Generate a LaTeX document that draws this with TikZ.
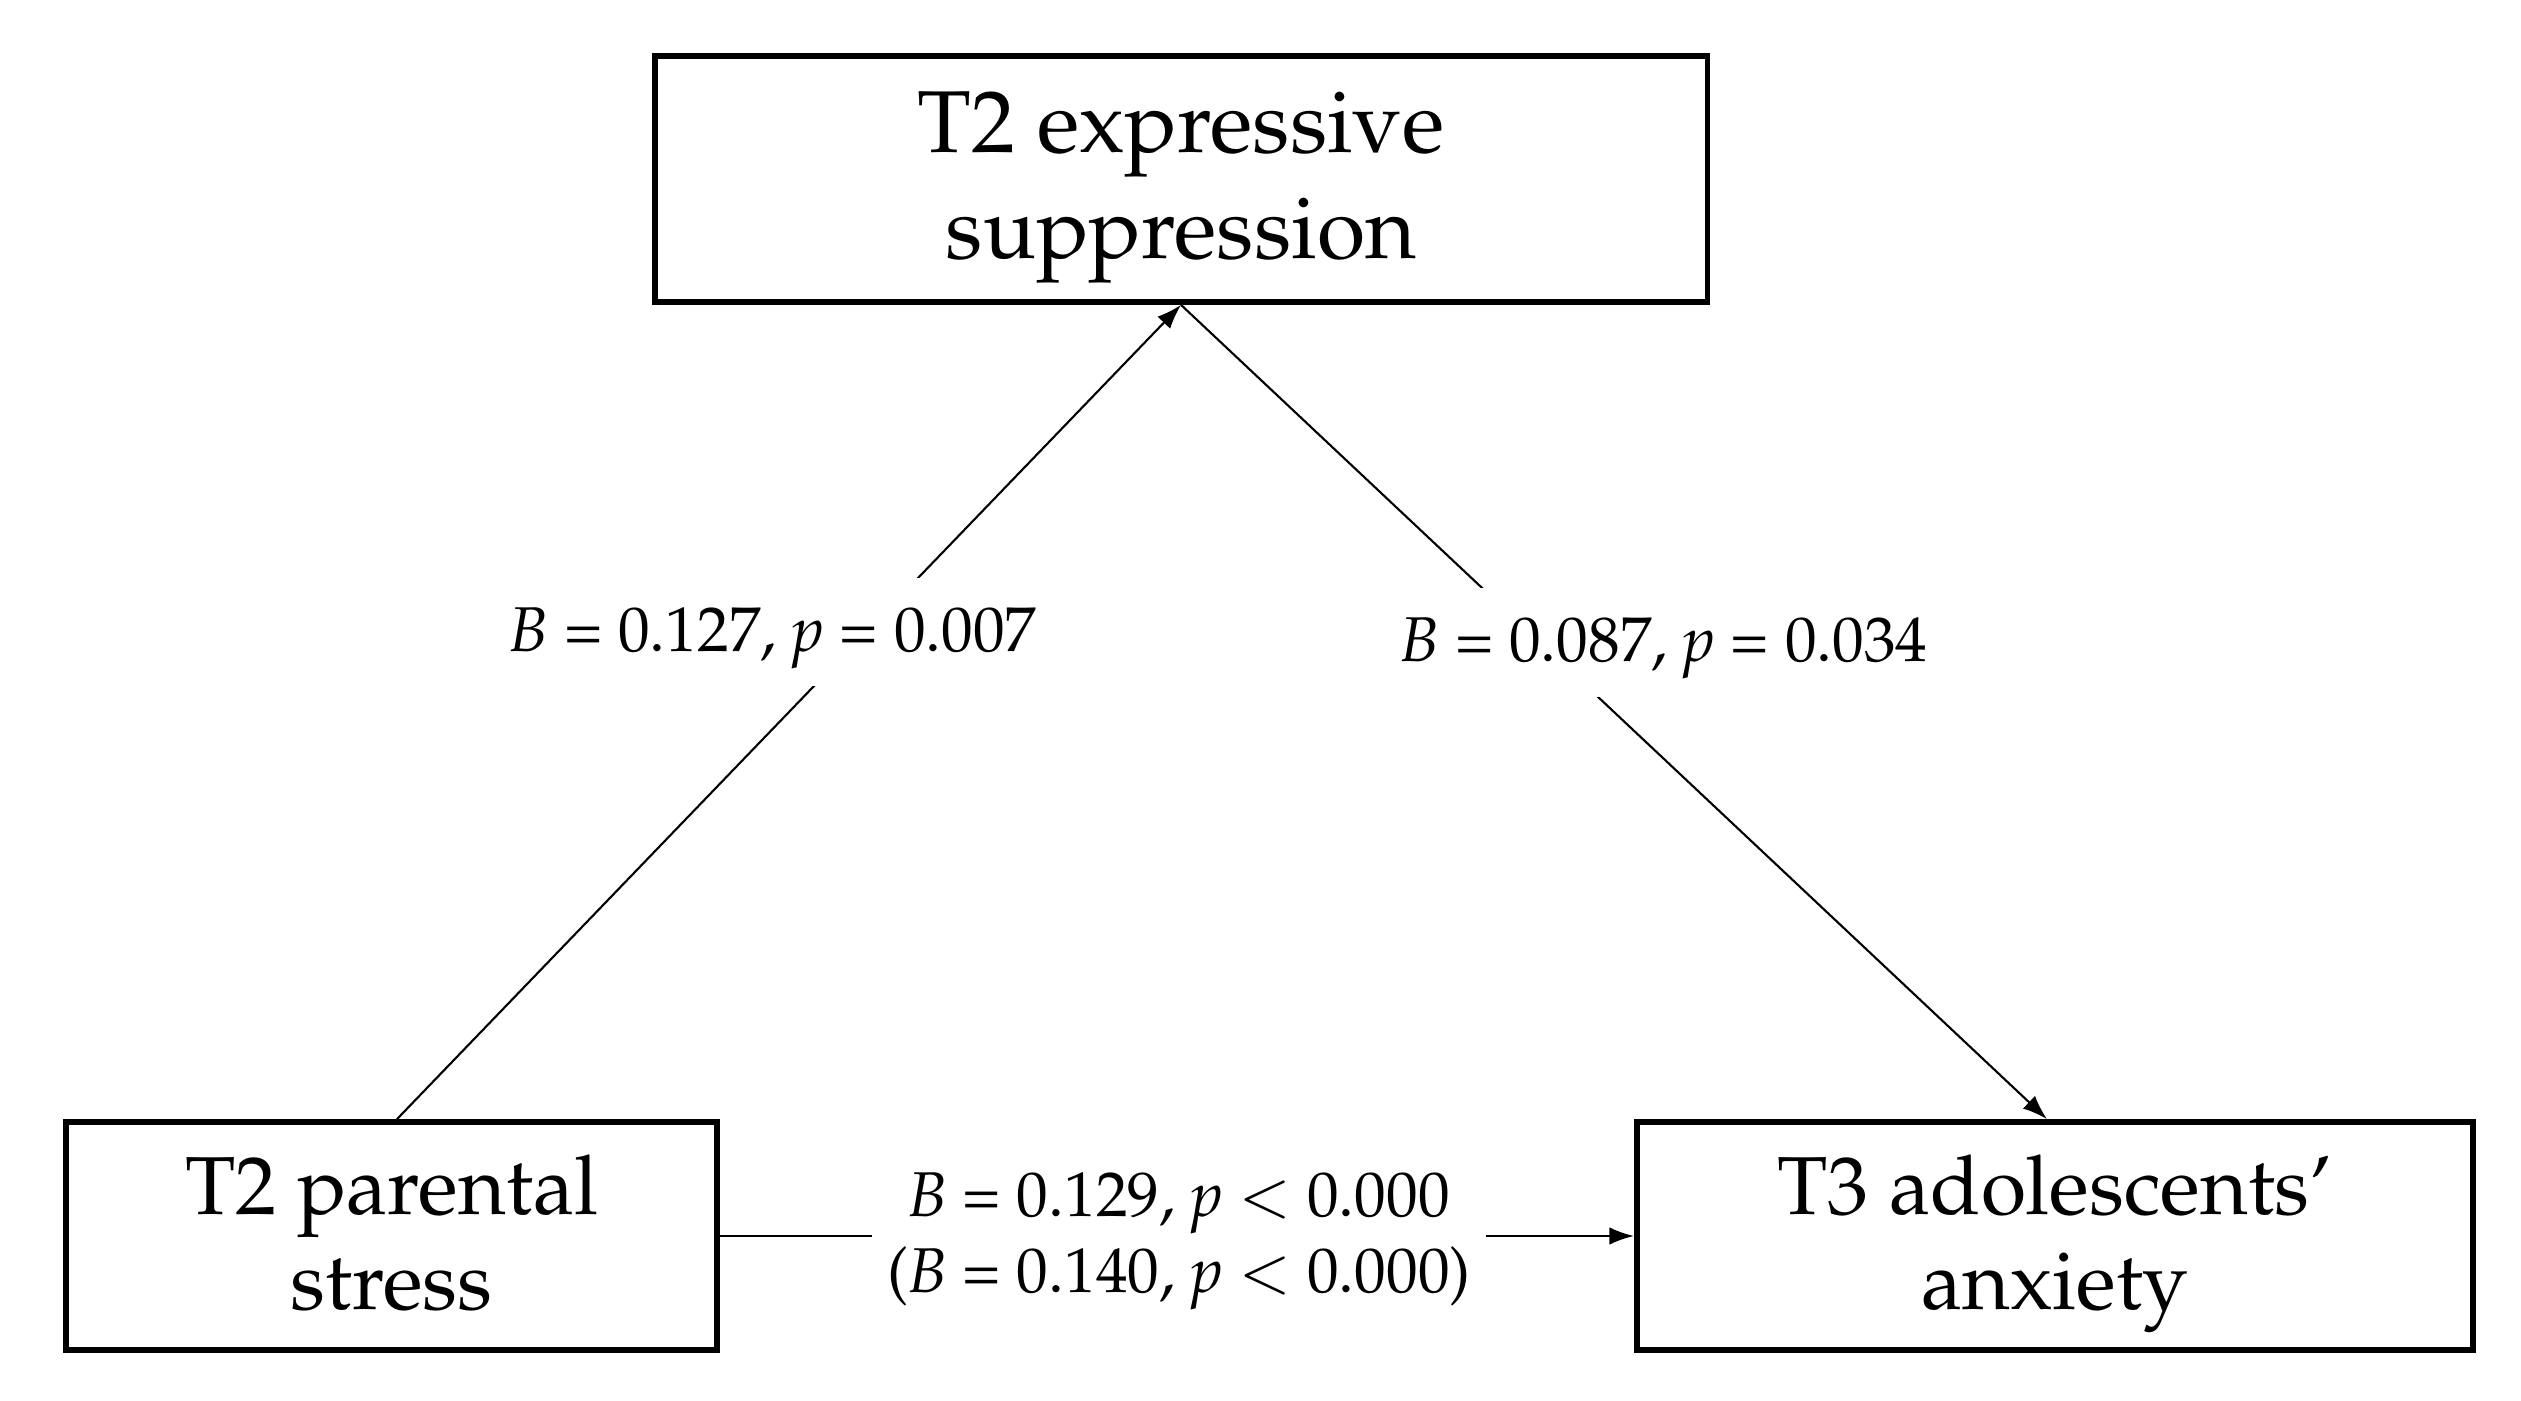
\documentclass[tikz,border=0pt]{standalone}
\usepackage[T1]{fontenc}
\usepackage{mathpazo}
\usetikzlibrary{arrows.meta}
\newcommand\firstln{\rule{0pt}{22pt}}
\newcommand\lastln{\rule[-7pt]{0pt}{7pt}}
\tikzset{
 box/.style={draw, line width=1.6pt, align=center, inner sep=0pt},
 bigtxt/.style={font=\fontsize{25}{30}\selectfont},
 midtxt/.style={font=\fontsize{23.4}{27}\selectfont},
 conn/.style={line width=0.6pt, -{Latex[length=7pt,width=5pt]}},
 lab/.style={fill=white, inner sep=0pt, font=\fontsize{18}{21.6}\selectfont},
}
\begin{document}
\begin{tikzpicture}[x=0.01cm,y=-0.01cm]
\path[use as bounding box] (0,0) rectangle (2521,1401);
\node[box, bigtxt, minimum width=10.52cm, minimum height=2.46cm] (es) at (1181,179) {\firstln T2 expressive\\suppression\lastln};
\node[box, midtxt, minimum width=6.51cm, minimum height=2.28cm] (ps) at (391.5,1236) {\firstln T2 parental\\stress\lastln};
\node[box, midtxt, minimum width=8.36cm, minimum height=2.28cm] (ad) at (2055,1236) {\firstln T3 adolescents'\\anxiety\lastln};
\draw[conn] ([xshift=0.055cm]ps.north) -- (es.south);
\draw[conn] (es.south) -- ([xshift=-0.08cm]ad.north);
\draw[conn] (ps.east) -- (ad.west);
\node[lab, anchor=base, text height=0.74cm, text depth=0.34cm] (l1) at (773,652) {\textit{B} = 0.127, \textit{p} = 0.007};
\node[lab, anchor=base, text height=0.74cm, text depth=0.35cm] (l2) at (1664,662) {\textit{B} = 0.087, \textit{p} = 0.034};
\node[lab, align=center, minimum width=6.14cm] (l3) at (1179,1241) {\textit{B} = 0.129, \textit{p} $<$ 0.000\\(\textit{B} = 0.140, \textit{p} $<$ 0.000)};
\end{tikzpicture}
\end{document}
